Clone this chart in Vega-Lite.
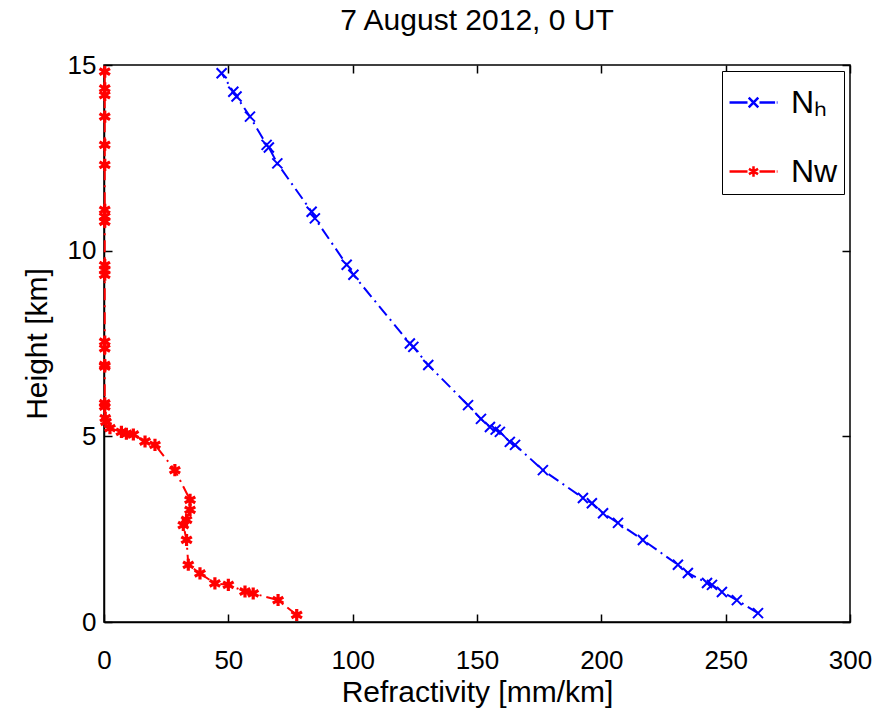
{
  "$schema": "https://vega.github.io/schema/vega-lite/v6.json",
  "width": 746,
  "height": 557,
  "padding": {"left": 22, "top": 6, "right": 10, "bottom": 5},
  "background": "white",
  "config": {
    "font": "Liberation Sans",
    "view": {"stroke": "black", "strokeWidth": 1.5},
    "axis": {"grid": false, "domainColor": "black", "tickColor": "black", "labelColor": "black", "titleColor": "black", "labelFontSize": 26, "titleFontSize": 30, "titleFontWeight": "normal", "labelFont": "Liberation Sans", "titleFont": "Liberation Sans", "tickSize": -8, "tickWidth": 1.5, "domainWidth": 1.5, "labelFlush": false}
  },
  "title": {"text": "7 August 2012, 0 UT", "fontSize": 30, "fontWeight": "normal", "font": "Liberation Sans", "color": "black", "offset": 16},
  "data": {"values": [
    {"s": "Nh", "n": 47.3, "h": 14.78}, {"s": "Nh", "n": 52.0, "h": 14.28}, {"s": "Nh", "n": 53.3, "h": 14.15},
    {"s": "Nh", "n": 58.7, "h": 13.61}, {"s": "Nh", "n": 65.4, "h": 12.85}, {"s": "Nh", "n": 66.3, "h": 12.78},
    {"s": "Nh", "n": 69.7, "h": 12.35}, {"s": "Nh", "n": 83.5, "h": 11.05}, {"s": "Nh", "n": 84.8, "h": 10.87},
    {"s": "Nh", "n": 97.6, "h": 9.62}, {"s": "Nh", "n": 100.3, "h": 9.35}, {"s": "Nh", "n": 123.0, "h": 7.5},
    {"s": "Nh", "n": 124.4, "h": 7.41}, {"s": "Nh", "n": 130.4, "h": 6.92}, {"s": "Nh", "n": 146.4, "h": 5.84},
    {"s": "Nh", "n": 151.6, "h": 5.47}, {"s": "Nh", "n": 155.2, "h": 5.25}, {"s": "Nh", "n": 157.5, "h": 5.18},
    {"s": "Nh", "n": 159.2, "h": 5.12}, {"s": "Nh", "n": 163.2, "h": 4.85}, {"s": "Nh", "n": 165.3, "h": 4.77},
    {"s": "Nh", "n": 176.5, "h": 4.09}, {"s": "Nh", "n": 192.6, "h": 3.34}, {"s": "Nh", "n": 196.2, "h": 3.2},
    {"s": "Nh", "n": 200.7, "h": 2.93}, {"s": "Nh", "n": 206.7, "h": 2.67}, {"s": "Nh", "n": 216.7, "h": 2.21},
    {"s": "Nh", "n": 230.8, "h": 1.54}, {"s": "Nh", "n": 234.8, "h": 1.32}, {"s": "Nh", "n": 242.5, "h": 1.05},
    {"s": "Nh", "n": 244.5, "h": 1.0}, {"s": "Nh", "n": 248.5, "h": 0.81}, {"s": "Nh", "n": 254.5, "h": 0.59},
    {"s": "Nh", "n": 263.0, "h": 0.24},
    {"s": "Nw", "n": 0.3, "h": 14.82}, {"s": "Nw", "n": 0.3, "h": 14.37}, {"s": "Nw", "n": 0.3, "h": 14.19},
    {"s": "Nw", "n": 0.3, "h": 13.61}, {"s": "Nw", "n": 0.3, "h": 12.85}, {"s": "Nw", "n": 0.3, "h": 12.31},
    {"s": "Nw", "n": 0.3, "h": 11.1}, {"s": "Nw", "n": 0.3, "h": 10.92}, {"s": "Nw", "n": 0.3, "h": 10.78},
    {"s": "Nw", "n": 0.3, "h": 9.61}, {"s": "Nw", "n": 0.3, "h": 9.48}, {"s": "Nw", "n": 0.3, "h": 9.35},
    {"s": "Nw", "n": 0.3, "h": 7.55}, {"s": "Nw", "n": 0.3, "h": 7.37}, {"s": "Nw", "n": 0.3, "h": 6.92},
    {"s": "Nw", "n": 0.3, "h": 6.88}, {"s": "Nw", "n": 0.3, "h": 5.89}, {"s": "Nw", "n": 0.3, "h": 5.8},
    {"s": "Nw", "n": 0.5, "h": 5.49}, {"s": "Nw", "n": 0.8, "h": 5.39}, {"s": "Nw", "n": 2.4, "h": 5.22},
    {"s": "Nw", "n": 7.0, "h": 5.12}, {"s": "Nw", "n": 9.0, "h": 5.07}, {"s": "Nw", "n": 11.8, "h": 5.05},
    {"s": "Nw", "n": 16.5, "h": 4.86}, {"s": "Nw", "n": 20.5, "h": 4.77}, {"s": "Nw", "n": 28.5, "h": 4.09},
    {"s": "Nw", "n": 34.6, "h": 3.29}, {"s": "Nw", "n": 34.6, "h": 3.02}, {"s": "Nw", "n": 33.2, "h": 2.75},
    {"s": "Nw", "n": 31.9, "h": 2.61}, {"s": "Nw", "n": 33.2, "h": 2.21}, {"s": "Nw", "n": 33.9, "h": 1.54},
    {"s": "Nw", "n": 38.6, "h": 1.31}, {"s": "Nw", "n": 44.6, "h": 1.04}, {"s": "Nw", "n": 50.0, "h": 1.0},
    {"s": "Nw", "n": 56.7, "h": 0.82}, {"s": "Nw", "n": 60.0, "h": 0.77}, {"s": "Nw", "n": 70.0, "h": 0.59},
    {"s": "Nw", "n": 77.5, "h": 0.19}
  ]},
  "encoding": {
    "x": {"field": "n", "type": "quantitative", "scale": {"domain": [0, 300], "nice": false, "zero": false},
          "axis": {"title": "Refractivity [mm/km]", "values": [0, 50, 100, 150, 200, 250, 300], "labelPadding": 33, "titlePadding": 4}},
    "y": {"field": "h", "type": "quantitative", "scale": {"domain": [0, 15], "nice": false},
          "axis": {"title": "Height [km]", "values": [0, 5, 10, 15], "labelPadding": 16, "titlePadding": 15}},
    "color": {"field": "s", "type": "nominal", "scale": {"domain": ["Nh", "Nw"], "range": ["#0000ff", "#ff0000"]}, "legend": null}
  },
  "layer": [
    {
      "mark": {"type": "line", "strokeWidth": 2, "strokeDash": [12, 5, 2, 5]},
      "encoding": {"order": {"field": "h", "type": "quantitative"}, "detail": {"field": "s"}}
    },
    {
      "mark": {"type": "point", "filled": false, "opacity": 1},
      "encoding": {
        "x": {"field": "n", "type": "quantitative", "axis": null},
        "y": {"field": "h", "type": "quantitative", "axis": null},
        "shape": {"field": "s", "type": "nominal",
                  "scale": {"domain": ["Nh", "Nw"], "range": ["M-1,-1L1,1M-1,1L1,-1", "M0,-1.15V1.15M-1,-0.58L1,0.58M-1,0.58L1,-0.58"]},
                  "legend": null},
        "size": {"condition": {"test": "datum.s == 'Nw'", "value": 110}, "value": 100},
        "strokeWidth": {"condition": {"test": "datum.s == 'Nw'", "value": 3.2}, "value": 2}
      }
    },
    {
      "mark": {"type": "point", "filled": false, "opacity": 0, "strokeWidth": 2.5},
      "encoding": {
        "x": {"field": "n", "type": "quantitative",
              "axis": {"orient": "top", "title": null, "labels": false, "domain": false, "values": [0, 50, 100, 150, 200, 250, 300]}},
        "y": {"field": "h", "type": "quantitative",
              "axis": {"orient": "right", "title": null, "labels": false, "domain": false, "values": [0, 5, 10, 15]}},
        "shape": {"field": "s", "type": "nominal",
                  "scale": {"domain": ["Nh", "Nw"], "range": ["M-1,0H-0.25M0.25,0H0.9M0.97,0H1M-0.2,-0.2L0.2,0.2M-0.2,0.2L0.2,-0.2", "M-1,0H-0.25M0.25,0H0.9M0.97,0H1M0,-0.22V0.22M-0.19,-0.11L0.19,0.11M-0.19,0.11L0.19,-0.11M-0.1,0H0.1"]},
                  "legend": {
                    "orient": "top-right", "offset": 6, "title": null,
                    "strokeColor": "black", "fillColor": "white", "padding": 6,
                    "symbolSize": 2300, "symbolStrokeWidth": 2.5, "symbolFillColor": "transparent", "symbolOpacity": 1,
                    "symbolStrokeColor": {"expr": "datum.value == 'Nh' ? '#0000ff' : '#ff0000'"},
                    "rowPadding": 27, "labelFontSize": 32, "labelFont": "Liberation Sans", "labelColor": "black", "labelOffset": 12,
                    "labelExpr": "datum.value == 'Nh' ? 'Nₕ' : 'Nw'"
                  }},
        "size": {"value": 1}
      }
    }
  ],
  "resolve": {"scale": {"shape": "independent"}, "legend": {"shape": "independent"}, "axis": {"x": "independent", "y": "independent"}}
}
